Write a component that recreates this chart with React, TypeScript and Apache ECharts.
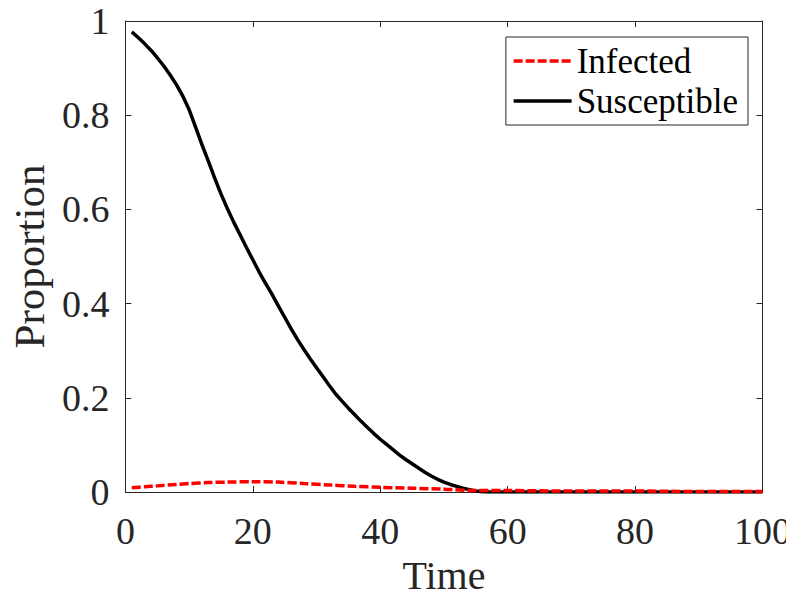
import React, { useEffect, useRef } from "react";
import * as echarts from "echarts";

const timeS = [1, 2, 3, 4, 5, 6, 7, 8, 9, 10, 11, 12, 13, 14, 15, 16, 17, 18, 19, 20, 21, 22, 23, 24, 25, 26, 27, 28, 29, 30, 31, 32, 33, 34, 35, 36, 37, 38, 39, 40, 41, 42, 43, 44, 45, 46, 47, 48, 49, 50, 51, 52, 53, 54, 55, 56, 57, 60, 70, 80, 90, 100];
const susceptible = [0.977, 0.965, 0.952, 0.938, 0.922, 0.905, 0.886, 0.865, 0.841, 0.812, 0.775, 0.738, 0.703, 0.667, 0.633, 0.602, 0.573, 0.546, 0.519, 0.493, 0.467, 0.443, 0.42, 0.395, 0.371, 0.347, 0.324, 0.303, 0.283, 0.264, 0.245, 0.226, 0.208, 0.193, 0.178, 0.164, 0.15, 0.137, 0.124, 0.112, 0.101, 0.09, 0.079, 0.069, 0.06, 0.051, 0.042, 0.034, 0.027, 0.021, 0.016, 0.012, 0.008, 0.005, 0.002, 0.0005, 0.0, 0.0, 0.0, 0.0, 0.0, 0.0];

const timeI = [1, 3, 5, 8, 10, 13, 16, 20, 24, 28, 32, 36, 40, 45, 50, 55, 60, 70, 80, 90, 100];
const infected = [0.009, 0.011, 0.013, 0.016, 0.018, 0.02, 0.021, 0.022, 0.021, 0.018, 0.015, 0.012, 0.01, 0.008, 0.006, 0.003, 0.003, 0.002, 0.002, 0.001, 0.001];

const xTicks = { min: 0, max: 100, interval: 20 };
const yTicks = { min: 0, max: 1, interval: 0.2 };

const FONT = "'Liberation Serif', 'Times New Roman', serif";
const AXIS_COLOR = "#262626";

export default function App() {
  const ref = useRef<HTMLDivElement>(null);
  useEffect(() => {
    if (!ref.current) return;
    const chart = echarts.init(ref.current, undefined, { renderer: "svg" });
    const axisCommon = {
      axisLine: { show: true, onZero: false, lineStyle: { color: AXIS_COLOR, width: 1 } },
      axisTick: { show: true, inside: true, length: 6, lineStyle: { color: AXIS_COLOR, width: 1 } },
      splitLine: { show: false },
    };
    chart.setOption({
      animation: false,
      backgroundColor: "#ffffff",
      grid: { left: 123, right: 31, top: 21, bottom: 104, containLabel: false },
      legend: {
        data: ["Infected", "Susceptible"],
        orient: "vertical",
        right: 46,
        top: 37,
        padding: [4, 10, 4, 6],
        itemGap: 0,
        itemWidth: 58,
        itemHeight: 40,
        borderColor: AXIS_COLOR,
        borderWidth: 1,
        backgroundColor: "#ffffff",
        itemStyle: { opacity: 0 },
        lineStyle: { width: 3.5 },
        textStyle: { fontFamily: FONT, fontSize: 35, color: "#000", lineHeight: 40 },
      },
      xAxis: [
        {
          type: "value",
          ...xTicks,
          position: "bottom",
          name: "Time",
          nameLocation: "middle",
          nameGap: 63,
          nameTextStyle: { fontFamily: FONT, fontSize: 40, color: AXIS_COLOR },
          axisLabel: { fontFamily: FONT, fontSize: 38, color: AXIS_COLOR, margin: 20 },
          ...axisCommon,
        },
        {
          type: "value",
          ...xTicks,
          position: "top",
          axisLabel: { show: false },
          ...axisCommon,
        },
      ],
      yAxis: [
        {
          type: "value",
          ...yTicks,
          position: "left",
          name: "Proportion",
          nameLocation: "middle",
          nameGap: 70,
          nameTextStyle: { fontFamily: FONT, fontSize: 43, color: AXIS_COLOR },
          axisLabel: { fontFamily: FONT, fontSize: 38, color: AXIS_COLOR, margin: 16 },
          ...axisCommon,
        },
        {
          type: "value",
          ...yTicks,
          position: "right",
          axisLabel: { show: false },
          ...axisCommon,
        },
      ],
      series: [
        {
          name: "Infected",
          type: "line",
          smooth: 0.3,
          symbol: "none",
          z: 3,
          data: timeI.map((t, i) => [t, infected[i]]),
          itemStyle: { color: "#ff0000" },
          lineStyle: { color: "#ff0000", width: 3.5, type: [9, 3] },
        },
        {
          name: "Susceptible",
          type: "line",
          smooth: false,
          symbol: "none",
          z: 2,
          data: timeS.map((t, i) => [t, susceptible[i]]),
          itemStyle: { color: "#000000" },
          lineStyle: { color: "#000000", width: 3.5, join: "round" },
        },
      ],
    });
    return () => chart.dispose();
  }, []);
  return <div ref={ref} style={{ width: 794, height: 600, margin: -8 }} />;
}
